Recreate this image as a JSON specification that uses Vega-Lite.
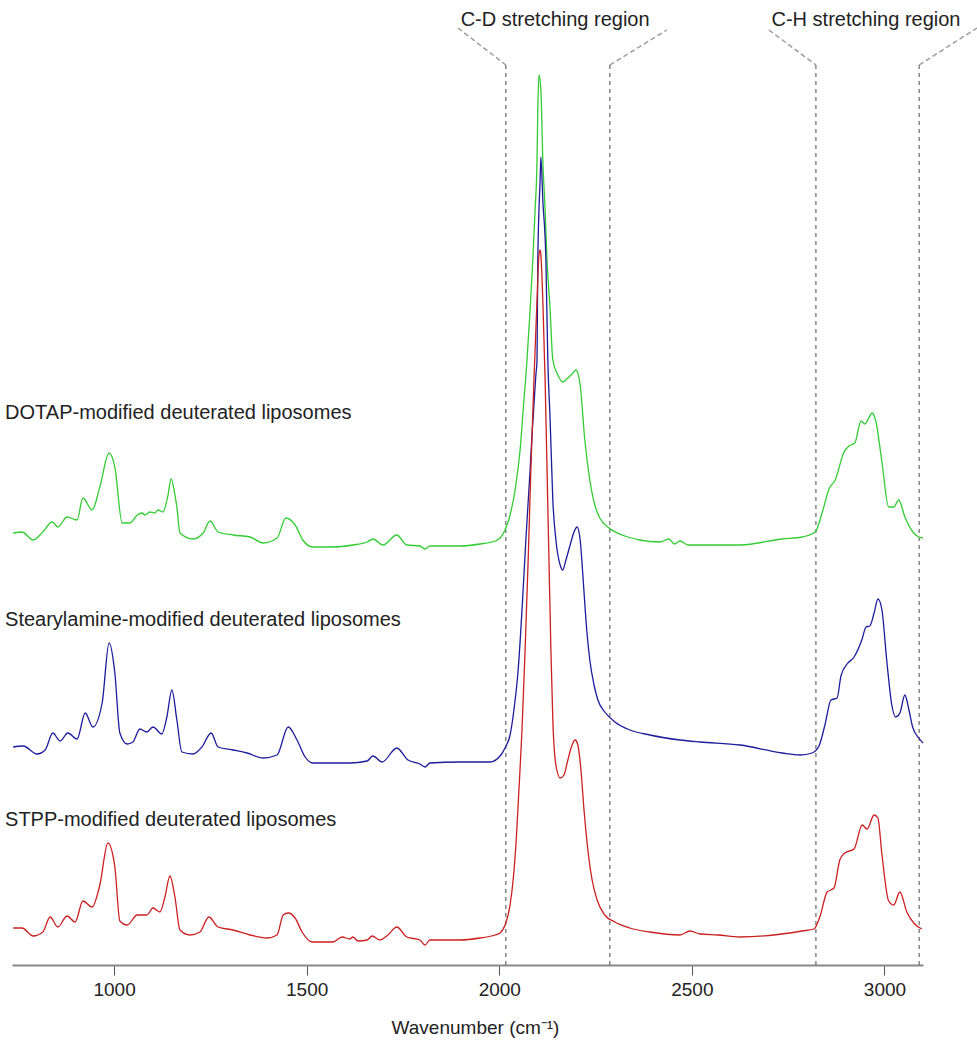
{
  "$schema": "https://vega.github.io/schema/vega-lite/v6.json",
  "autosize": {"type": "none"},
  "padding": {"left": 12, "top": 0, "right": 54, "bottom": 85},
  "width": 911,
  "height": 965,
  "background": "white",
  "config": {
    "view": {"stroke": null},
    "font": "Liberation Sans"
  },
  "encoding": {
    "x": {
      "field": "w", "type": "quantitative",
      "scale": {"domain": [735, 3100], "nice": false, "zero": false},
      "axis": {
        "values": [1000, 1500, 2000, 2500, 3000],
        "format": "d",
        "grid": false,
        "domainColor": "#888888",
        "domainWidth": 2,
        "tickColor": "#555555",
        "tickSize": 10,
        "tickWidth": 1,
        "labelFontSize": 19,
        "labelColor": "#222222",
        "labelPadding": 5,
        "title": "Wavenumber  (cm⁻¹)",
        "titleFontSize": 19,
        "titleFontWeight": "normal",
        "titleColor": "#222222",
        "titlePadding": 19,
        "titleX": 463
      }
    },
    "y": {
      "field": "h", "type": "quantitative",
      "scale": {"domain": [0, 965], "nice": false, "zero": false},
      "axis": null
    }
  },
  "layer": [
    {
      "data": {"values": [
        {"w": 2017, "h": 900, "h2": 0},
        {"w": 2287, "h": 900, "h2": 0},
        {"w": 2822, "h": 900, "h2": 0},
        {"w": 3090, "h": 900, "h2": 0}
      ]},
      "mark": {"type": "rule", "color": "#666666", "strokeDash": [4, 4], "strokeWidth": 1.2},
      "encoding": {
        "y2": {"field": "h2"}
      }
    },
    {
      "data": {"values": [
        {"w": 1893, "h": 937, "w2": 2017, "h2": 900},
        {"w": 2287, "h": 900, "w2": 2435, "h2": 935},
        {"w": 2700, "h": 935, "w2": 2822, "h2": 900},
        {"w": 3090, "h": 900, "w2": 3240, "h2": 937}
      ]},
      "mark": {"type": "rule", "color": "#999999", "strokeDash": [5, 3], "strokeWidth": 1.4, "clip": false},
      "encoding": {
        "x2": {"field": "w2"},
        "y2": {"field": "h2"}
      }
    },
    {
      "data": {"values": [
        {"s": "DOTAP","w":738,"h":432},{"s":"DOTAP","w":761,"h":433},{"s":"DOTAP","w":790,"h":425},{"s":"DOTAP","w":815,"h":433},{"s":"DOTAP","w":839,"h":443},{"s":"DOTAP","w":854,"h":438},{"s":"DOTAP","w":878,"h":448},{"s":"DOTAP","w":904,"h":445},{"s":"DOTAP","w":919,"h":467},{"s":"DOTAP","w":943,"h":455},{"s":"DOTAP","w":963,"h":478},{"s":"DOTAP","w":987,"h":512},{"s":"DOTAP","w":1002,"h":498},{"s":"DOTAP","w":1021,"h":442},{"s":"DOTAP","w":1041,"h":442},{"s":"DOTAP","w":1060,"h":450},{"s":"DOTAP","w":1073,"h":452},{"s":"DOTAP","w":1080,"h":450},{"s":"DOTAP","w":1093,"h":453},{"s":"DOTAP","w":1106,"h":452},{"s":"DOTAP","w":1114,"h":455},{"s":"DOTAP","w":1127,"h":453},{"s":"DOTAP","w":1140,"h":470},{"s":"DOTAP","w":1148,"h":486},{"s":"DOTAP","w":1158,"h":470},{"s":"DOTAP","w":1163,"h":458},{"s":"DOTAP","w":1171,"h":432},{"s":"DOTAP","w":1205,"h":426},{"s":"DOTAP","w":1231,"h":432},{"s":"DOTAP","w":1249,"h":444},{"s":"DOTAP","w":1270,"h":433},{"s":"DOTAP","w":1309,"h":430},{"s":"DOTAP","w":1353,"h":428},{"s":"DOTAP","w":1387,"h":422},{"s":"DOTAP","w":1423,"h":427},{"s":"DOTAP","w":1446,"h":447},{"s":"DOTAP","w":1470,"h":440},{"s":"DOTAP","w":1490,"h":425},{"s":"DOTAP","w":1516,"h":418},{"s":"DOTAP","w":1568,"h":418},{"s":"DOTAP","w":1620,"h":420},{"s":"DOTAP","w":1657,"h":423},{"s":"DOTAP","w":1672,"h":426},{"s":"DOTAP","w":1698,"h":420},{"s":"DOTAP","w":1734,"h":430},{"s":"DOTAP","w":1760,"h":420},{"s":"DOTAP","w":1794,"h":419},{"s":"DOTAP","w":1807,"h":416},{"s":"DOTAP","w":1820,"h":419},{"s":"DOTAP","w":1898,"h":419},{"s":"DOTAP","w":1950,"h":421},{"s":"DOTAP","w":1989,"h":424},{"s":"DOTAP","w":2002,"h":427},{"s":"DOTAP","w":2015,"h":435},{"s":"DOTAP","w":2028,"h":450},{"s":"DOTAP","w":2041,"h":475},{"s":"DOTAP","w":2054,"h":515},{"s":"DOTAP","w":2064,"h":565},{"s":"DOTAP","w":2072,"h":605},{"s":"DOTAP","w":2080,"h":655},{"s":"DOTAP","w":2087,"h":705},{"s":"DOTAP","w":2093,"h":755},{"s":"DOTAP","w":2098,"h":805},{"s":"DOTAP","w":2100,"h":855},{"s":"DOTAP","w":2103,"h":890},{"s":"DOTAP","w":2108,"h":875},{"s":"DOTAP","w":2113,"h":805},{"s":"DOTAP","w":2119,"h":755},{"s":"DOTAP","w":2124,"h":705},{"s":"DOTAP","w":2132,"h":655},{"s":"DOTAP","w":2139,"h":605},{"s":"DOTAP","w":2152,"h":590},{"s":"DOTAP","w":2165,"h":583},{"s":"DOTAP","w":2178,"h":587},{"s":"DOTAP","w":2189,"h":591},{"s":"DOTAP","w":2199,"h":595},{"s":"DOTAP","w":2210,"h":580},{"s":"DOTAP","w":2222,"h":525},{"s":"DOTAP","w":2235,"h":485},{"s":"DOTAP","w":2248,"h":460},{"s":"DOTAP","w":2261,"h":447},{"s":"DOTAP","w":2285,"h":437},{"s":"DOTAP","w":2326,"h":429},{"s":"DOTAP","w":2365,"h":425},{"s":"DOTAP","w":2417,"h":423},{"s":"DOTAP","w":2440,"h":426},{"s":"DOTAP","w":2455,"h":421},{"s":"DOTAP","w":2469,"h":424},{"s":"DOTAP","w":2490,"h":420},{"s":"DOTAP","w":2521,"h":420},{"s":"DOTAP","w":2625,"h":420},{"s":"DOTAP","w":2734,"h":426},{"s":"DOTAP","w":2786,"h":428},{"s":"DOTAP","w":2820,"h":433},{"s":"DOTAP","w":2838,"h":452},{"s":"DOTAP","w":2856,"h":476},{"s":"DOTAP","w":2872,"h":485},{"s":"DOTAP","w":2895,"h":513},{"s":"DOTAP","w":2908,"h":519},{"s":"DOTAP","w":2923,"h":522},{"s":"DOTAP","w":2939,"h":544},{"s":"DOTAP","w":2949,"h":541},{"s":"DOTAP","w":2968,"h":552},{"s":"DOTAP","w":2978,"h":543},{"s":"DOTAP","w":2993,"h":504},{"s":"DOTAP","w":3011,"h":458},{"s":"DOTAP","w":3024,"h":458},{"s":"DOTAP","w":3037,"h":465},{"s":"DOTAP","w":3053,"h":448},{"s":"DOTAP","w":3076,"h":432},{"s":"DOTAP","w":3089,"h":428},{"s":"DOTAP","w":3100,"h":427},

        {"s":"SA","w":738,"h":218},{"s":"SA","w":764,"h":219},{"s":"SA","w":800,"h":211},{"s":"SA","w":821,"h":215},{"s":"SA","w":841,"h":232},{"s":"SA","w":860,"h":224},{"s":"SA","w":880,"h":232},{"s":"SA","w":904,"h":226},{"s":"SA","w":925,"h":252},{"s":"SA","w":945,"h":238},{"s":"SA","w":969,"h":262},{"s":"SA","w":987,"h":322},{"s":"SA","w":1002,"h":292},{"s":"SA","w":1015,"h":232},{"s":"SA","w":1034,"h":221},{"s":"SA","w":1049,"h":223},{"s":"SA","w":1067,"h":236},{"s":"SA","w":1085,"h":233},{"s":"SA","w":1101,"h":238},{"s":"SA","w":1124,"h":231},{"s":"SA","w":1137,"h":248},{"s":"SA","w":1150,"h":275},{"s":"SA","w":1163,"h":245},{"s":"SA","w":1176,"h":213},{"s":"SA","w":1205,"h":211},{"s":"SA","w":1228,"h":218},{"s":"SA","w":1252,"h":232},{"s":"SA","w":1270,"h":218},{"s":"SA","w":1309,"h":215},{"s":"SA","w":1345,"h":212},{"s":"SA","w":1387,"h":207},{"s":"SA","w":1423,"h":210},{"s":"SA","w":1452,"h":238},{"s":"SA","w":1475,"h":225},{"s":"SA","w":1496,"h":208},{"s":"SA","w":1516,"h":202},{"s":"SA","w":1568,"h":202},{"s":"SA","w":1612,"h":202},{"s":"SA","w":1657,"h":204},{"s":"SA","w":1672,"h":209},{"s":"SA","w":1696,"h":203},{"s":"SA","w":1734,"h":217},{"s":"SA","w":1763,"h":205},{"s":"SA","w":1794,"h":201},{"s":"SA","w":1807,"h":198},{"s":"SA","w":1820,"h":202},{"s":"SA","w":1898,"h":203},{"s":"SA","w":1950,"h":203},{"s":"SA","w":1976,"h":203},{"s":"SA","w":2002,"h":209},{"s":"SA","w":2015,"h":217},{"s":"SA","w":2028,"h":230},{"s":"SA","w":2038,"h":255},{"s":"SA","w":2049,"h":295},{"s":"SA","w":2059,"h":355},{"s":"SA","w":2069,"h":425},{"s":"SA","w":2080,"h":495},{"s":"SA","w":2085,"h":530},{"s":"SA","w":2090,"h":560},{"s":"SA","w":2095,"h":590},{"s":"SA","w":2098,"h":605},{"s":"SA","w":2100,"h":705},{"s":"SA","w":2106,"h":785},{"s":"SA","w":2108,"h":808},{"s":"SA","w":2113,"h":765},{"s":"SA","w":2121,"h":705},{"s":"SA","w":2126,"h":605},{"s":"SA","w":2132,"h":545},{"s":"SA","w":2139,"h":465},{"s":"SA","w":2147,"h":425},{"s":"SA","w":2158,"h":400},{"s":"SA","w":2165,"h":395},{"s":"SA","w":2173,"h":405},{"s":"SA","w":2184,"h":420},{"s":"SA","w":2194,"h":433},{"s":"SA","w":2202,"h":438},{"s":"SA","w":2210,"h":425},{"s":"SA","w":2217,"h":390},{"s":"SA","w":2225,"h":345},{"s":"SA","w":2235,"h":305},{"s":"SA","w":2246,"h":280},{"s":"SA","w":2256,"h":265},{"s":"SA","w":2274,"h":253},{"s":"SA","w":2300,"h":243},{"s":"SA","w":2339,"h":235},{"s":"SA","w":2391,"h":230},{"s":"SA","w":2469,"h":225},{"s":"SA","w":2521,"h":223},{"s":"SA","w":2625,"h":220},{"s":"SA","w":2734,"h":212},{"s":"SA","w":2781,"h":210},{"s":"SA","w":2812,"h":212},{"s":"SA","w":2830,"h":219},{"s":"SA","w":2846,"h":241},{"s":"SA","w":2861,"h":265},{"s":"SA","w":2877,"h":267},{"s":"SA","w":2887,"h":289},{"s":"SA","w":2903,"h":301},{"s":"SA","w":2921,"h":308},{"s":"SA","w":2942,"h":326},{"s":"SA","w":2952,"h":338},{"s":"SA","w":2962,"h":339},{"s":"SA","w":2973,"h":352},{"s":"SA","w":2983,"h":366},{"s":"SA","w":2993,"h":356},{"s":"SA","w":3006,"h":304},{"s":"SA","w":3019,"h":260},{"s":"SA","w":3029,"h":248},{"s":"SA","w":3040,"h":252},{"s":"SA","w":3053,"h":270},{"s":"SA","w":3063,"h":256},{"s":"SA","w":3073,"h":238},{"s":"SA","w":3089,"h":227},{"s":"SA","w":3100,"h":222},

        {"s":"STPP","w":738,"h":37},{"s":"STPP","w":761,"h":37},{"s":"STPP","w":790,"h":29},{"s":"STPP","w":815,"h":33},{"s":"STPP","w":834,"h":48},{"s":"STPP","w":854,"h":38},{"s":"STPP","w":878,"h":49},{"s":"STPP","w":899,"h":43},{"s":"STPP","w":919,"h":64},{"s":"STPP","w":943,"h":58},{"s":"STPP","w":963,"h":80},{"s":"STPP","w":984,"h":122},{"s":"STPP","w":1002,"h":98},{"s":"STPP","w":1015,"h":44},{"s":"STPP","w":1034,"h":40},{"s":"STPP","w":1060,"h":50},{"s":"STPP","w":1085,"h":50},{"s":"STPP","w":1101,"h":57},{"s":"STPP","w":1119,"h":53},{"s":"STPP","w":1132,"h":68},{"s":"STPP","w":1145,"h":89},{"s":"STPP","w":1158,"h":68},{"s":"STPP","w":1171,"h":35},{"s":"STPP","w":1197,"h":30},{"s":"STPP","w":1223,"h":33},{"s":"STPP","w":1246,"h":48},{"s":"STPP","w":1270,"h":38},{"s":"STPP","w":1309,"h":35},{"s":"STPP","w":1353,"h":30},{"s":"STPP","w":1397,"h":27},{"s":"STPP","w":1423,"h":30},{"s":"STPP","w":1439,"h":50},{"s":"STPP","w":1452,"h":52},{"s":"STPP","w":1470,"h":47},{"s":"STPP","w":1488,"h":33},{"s":"STPP","w":1514,"h":23},{"s":"STPP","w":1568,"h":23},{"s":"STPP","w":1592,"h":28},{"s":"STPP","w":1612,"h":26},{"s":"STPP","w":1620,"h":28},{"s":"STPP","w":1633,"h":24},{"s":"STPP","w":1657,"h":25},{"s":"STPP","w":1670,"h":29},{"s":"STPP","w":1690,"h":25},{"s":"STPP","w":1711,"h":30},{"s":"STPP","w":1734,"h":38},{"s":"STPP","w":1760,"h":28},{"s":"STPP","w":1794,"h":25},{"s":"STPP","w":1807,"h":20},{"s":"STPP","w":1820,"h":25},{"s":"STPP","w":1898,"h":25},{"s":"STPP","w":1950,"h":27},{"s":"STPP","w":1989,"h":30},{"s":"STPP","w":2002,"h":32},{"s":"STPP","w":2015,"h":40},{"s":"STPP","w":2028,"h":60},{"s":"STPP","w":2036,"h":85},{"s":"STPP","w":2044,"h":125},{"s":"STPP","w":2051,"h":175},{"s":"STPP","w":2059,"h":235},{"s":"STPP","w":2067,"h":315},{"s":"STPP","w":2075,"h":405},{"s":"STPP","w":2082,"h":495},{"s":"STPP","w":2090,"h":585},{"s":"STPP","w":2098,"h":665},{"s":"STPP","w":2103,"h":710},{"s":"STPP","w":2106,"h":715},{"s":"STPP","w":2108,"h":710},{"s":"STPP","w":2113,"h":665},{"s":"STPP","w":2119,"h":585},{"s":"STPP","w":2124,"h":495},{"s":"STPP","w":2129,"h":405},{"s":"STPP","w":2134,"h":315},{"s":"STPP","w":2139,"h":245},{"s":"STPP","w":2147,"h":200},{"s":"STPP","w":2158,"h":187},{"s":"STPP","w":2168,"h":190},{"s":"STPP","w":2178,"h":205},{"s":"STPP","w":2189,"h":220},{"s":"STPP","w":2197,"h":225},{"s":"STPP","w":2204,"h":220},{"s":"STPP","w":2212,"h":195},{"s":"STPP","w":2220,"h":155},{"s":"STPP","w":2230,"h":115},{"s":"STPP","w":2241,"h":85},{"s":"STPP","w":2254,"h":65},{"s":"STPP","w":2274,"h":50},{"s":"STPP","w":2300,"h":43},{"s":"STPP","w":2339,"h":37},{"s":"STPP","w":2391,"h":33},{"s":"STPP","w":2469,"h":30},{"s":"STPP","w":2495,"h":34},{"s":"STPP","w":2521,"h":31},{"s":"STPP","w":2568,"h":30},{"s":"STPP","w":2625,"h":28},{"s":"STPP","w":2734,"h":31},{"s":"STPP","w":2786,"h":34},{"s":"STPP","w":2817,"h":36},{"s":"STPP","w":2833,"h":49},{"s":"STPP","w":2851,"h":73},{"s":"STPP","w":2869,"h":77},{"s":"STPP","w":2884,"h":105},{"s":"STPP","w":2897,"h":112},{"s":"STPP","w":2921,"h":116},{"s":"STPP","w":2942,"h":140},{"s":"STPP","w":2955,"h":136},{"s":"STPP","w":2973,"h":150},{"s":"STPP","w":2983,"h":147},{"s":"STPP","w":2993,"h":112},{"s":"STPP","w":3011,"h":64},{"s":"STPP","w":3024,"h":60},{"s":"STPP","w":3040,"h":73},{"s":"STPP","w":3058,"h":53},{"s":"STPP","w":3076,"h":42},{"s":"STPP","w":3097,"h":36}
      ]},
      "mark": {"type": "line", "strokeWidth": 1.3, "interpolate": "monotone"},
      "encoding": {
        "color": {
          "field": "s", "type": "nominal",
          "scale": {"domain": ["DOTAP", "SA", "STPP"], "range": ["#33cc33", "#1c1c9c", "#cc1f1f"]},
          "legend": null
        }
      }
    },
    {
      "data": {"values": [
        {"label": "C-D stretching region", "w": 2145, "h": 945},
        {"label": "C-H stretching region", "w": 2952, "h": 945}
      ]},
      "mark": {"type": "text", "align": "center", "baseline": "middle", "fontSize": 20, "color": "#222222"},
      "encoding": {
        "text": {"field": "label", "type": "nominal"}
      }
    },
    {
      "data": {"values": [
        {"label": "DOTAP-modified deuterated liposomes", "w": 717, "h": 552},
        {"label": "Stearylamine-modified deuterated liposomes", "w": 717, "h": 345},
        {"label": "STPP-modified deuterated liposomes", "w": 717, "h": 145}
      ]},
      "mark": {"type": "text", "align": "left", "baseline": "middle", "fontSize": 20, "color": "#222222"},
      "encoding": {
        "text": {"field": "label", "type": "nominal"}
      }
    }
  ]
}
